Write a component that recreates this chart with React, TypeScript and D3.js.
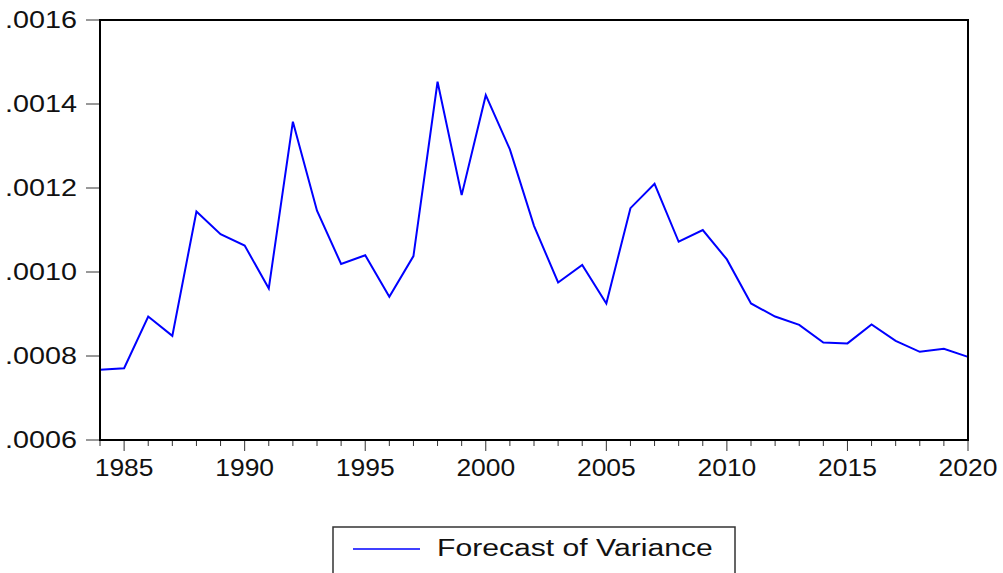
import React, { useEffect, useRef } from 'react';
import * as d3 from 'd3';

const years = d3.range(1984, 2021);
const variance = [
  0.000767, 0.000771, 0.000894, 0.000848, 0.001144, 0.001090, 0.001063, 0.000961,
  0.001358, 0.001146, 0.001019, 0.001040, 0.000941, 0.001038, 0.001453, 0.001183,
  0.001421, 0.001292, 0.001110, 0.000975, 0.001017, 0.000925, 0.001152, 0.001210,
  0.001072, 0.001100, 0.001030, 0.000925, 0.000894, 0.000874, 0.000832, 0.000830,
  0.000875, 0.000836, 0.000810, 0.000817, 0.000798,
];
const yTicks = [0.0006, 0.0008, 0.0010, 0.0012, 0.0014, 0.0016];
const xLabelYears = [1985, 1990, 1995, 2000, 2005, 2010, 2015, 2020];
const seriesName = 'Forecast of Variance';

const App: React.FC = () => {
  const svgRef = useRef<SVGSVGElement>(null);

  useEffect(() => {
    if (!svgRef.current) return;
    const svg = d3.select(svgRef.current);
    svg.selectAll('*').remove();

    const left = 100, right = 968, top = 20, bottom = 440;
    const font = 'Liberation Sans, Arial, sans-serif';

    const x = d3.scaleLinear().domain([1984, 2020]).range([left, right]);
    const y = d3.scaleLinear().domain([0.0006, 0.0016]).range([bottom, top]);

    svg.append('rect').attr('width', 1003).attr('height', 573).attr('fill', '#fff');

    // y ticks + labels
    yTicks.forEach(t => {
      svg.append('line')
        .attr('x1', left - 14).attr('x2', left)
        .attr('y1', y(t)).attr('y2', y(t))
        .attr('stroke', '#333').attr('stroke-width', 1);
      svg.append('text')
        .attr('transform', `translate(77,${y(t) + 8}) scale(1.25,1)`)
        .attr('text-anchor', 'end')
        .style('font-family', font)
        .style('font-size', '23px')
        .attr('fill', '#111')
        .text(d3.format('.4f')(t).replace(/^0/, ''));
    });

    // x ticks: minor every year, major every 5
    years.forEach(yr => {
      const major = yr % 5 === 0;
      svg.append('line')
        .attr('x1', x(yr)).attr('x2', x(yr))
        .attr('y1', bottom).attr('y2', bottom + (major ? 11 : 6))
        .attr('stroke', '#333').attr('stroke-width', 1);
    });
    xLabelYears.forEach(yr => {
      svg.append('text')
        .attr('transform', `translate(${x(yr)},476) scale(1.15,1)`)
        .attr('text-anchor', 'middle')
        .style('font-family', font)
        .style('font-size', '23px')
        .attr('fill', '#111')
        .text(String(yr));
    });

    // series line
    const line = d3.line<number>()
      .x((_, i) => x(years[i]))
      .y(d => y(d));
    svg.append('path')
      .datum(variance)
      .attr('fill', 'none')
      .attr('stroke', '#0000ff')
      .attr('stroke-width', 2)
      .attr('d', line);

    // frame
    svg.append('rect')
      .attr('x', left).attr('y', top)
      .attr('width', right - left).attr('height', bottom - top)
      .attr('fill', 'none')
      .attr('stroke', '#000')
      .attr('stroke-width', 2);

    // legend
    const lg = svg.append('g');
    lg.append('rect')
      .attr('x', 333).attr('y', 527)
      .attr('width', 402).attr('height', 60)
      .attr('fill', 'none')
      .attr('stroke', '#333')
      .attr('stroke-width', 1.5);
    lg.append('line')
      .attr('x1', 353).attr('x2', 420)
      .attr('y1', 549).attr('y2', 549)
      .attr('stroke', '#0000ff').attr('stroke-width', 1.5);
    lg.append('text')
      .attr('transform', 'translate(437,556) scale(1.31,1)')
      .style('font-family', font)
      .style('font-size', '23px')
      .attr('fill', '#111')
      .text(seriesName);
  }, []);

  return (
    <svg
      ref={svgRef}
      width={1003}
      height={573}
      style={{ position: 'absolute', left: 0, top: 0, display: 'block' }}
    />
  );
};

export default App;
